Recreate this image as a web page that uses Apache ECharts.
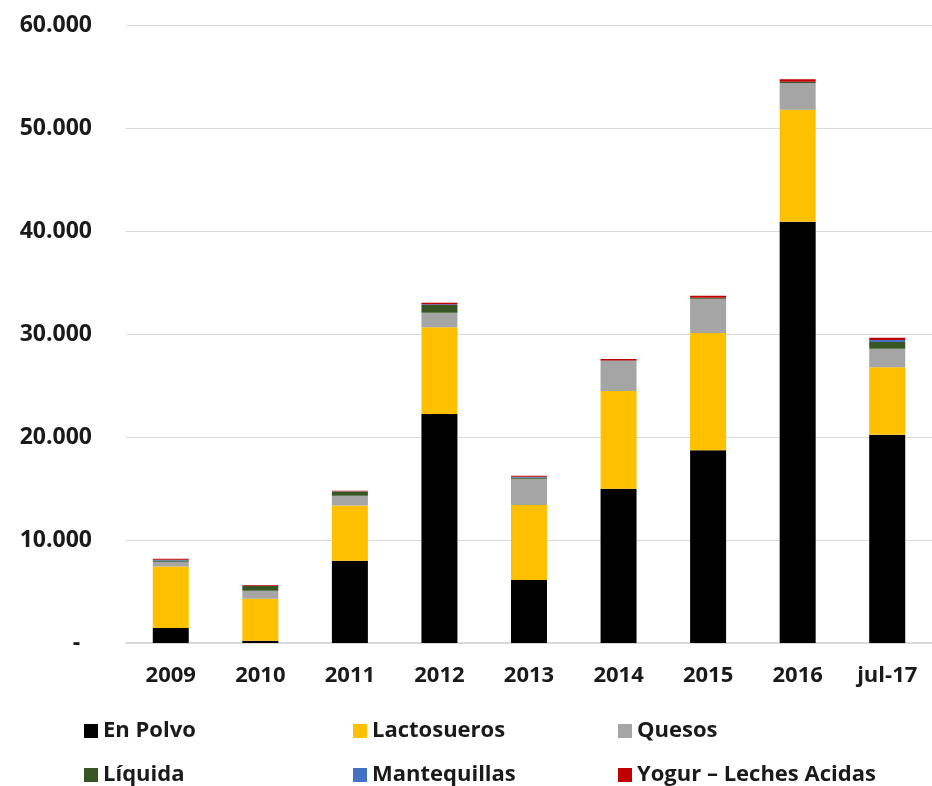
<!DOCTYPE html>
<html>
<head>
<meta charset="utf-8">
<script src="https://cdn.jsdelivr.net/npm/echarts@6/dist/echarts.min.js"></script>
<style>html,body{margin:0;padding:0;background:#fff}#c{width:932px;height:786px}</style>
</head>
<body>
<div id="c"></div>
<script>
const categories = ['2009','2010','2011','2012','2013','2014','2015','2016','jul-17'];
const enPolvo     = [1450, 230, 7980, 22240, 6110, 14970, 18720, 40890, 20230];
const lactosueros = [5980, 4070, 5370, 8410, 7300, 9500, 11380, 10870, 6540];
const quesos      = [450, 770, 940, 1420, 2530, 2910, 3320, 2610, 1810];
const liquida     = [120, 460, 410, 740, 120, 20, 70, 100, 650];
const mantequillas= [80, 40, 30, 90, 80, 20, 30, 30, 190];
const yogur       = [90, 50, 40, 140, 90, 160, 200, 230, 220];
const seriesNames = ['En Polvo','Lactosueros','Quesos','Líquida','Mantequillas','Yogur – Leches Acidas'];
const seriesData = [enPolvo, lactosueros, quesos, liquida, mantequillas, yogur];
const colors = ['#000000','#FFC000','#A5A5A5','#375623','#4472C4','#C00000'];

const FONT = 'Open Sans';
const chart = echarts.init(document.getElementById('c'), null, {renderer:'canvas'});
function fmt(v){ if(v===0) return '-  '; return String(v).replace(/\B(?=(\d{3})+(?!\d))/g,'.'); }
const legendText = {fontFamily:FONT, fontWeight:'bold', fontSize:22, color:'#1a1a1a'};
function mkLegend(left, names){
  return {orient:'vertical', left:left, top:720, itemWidth:14, itemHeight:14, itemGap:22,
    icon:'rect', data:names, textStyle:legendText, selectedMode:false, padding:0};
}
chart.setOption({
  animation:false,
  color: colors,
  grid:{left:126, top:25, width:808, height:618, containLabel:false},
  xAxis:{type:'category', data:categories,
    axisLine:{lineStyle:{color:'#d9d9d9', width:2}}, axisTick:{show:false},
    axisLabel:{fontFamily:FONT, fontWeight:'bold', fontSize:22, color:'#1a1a1a', margin:22}},
  yAxis:{type:'value', min:0, max:60000, interval:10000,
    axisLine:{show:false}, axisTick:{show:false},
    splitLine:{lineStyle:{color:'#d9d9d9', width:1}},
    axisLabel:{formatter:fmt, fontFamily:FONT, fontWeight:'bold', fontSize:23, color:'#1a1a1a', margin:34}},
  legend:[mkLegend(84,[seriesNames[0],seriesNames[3]]), mkLegend(353,[seriesNames[1],seriesNames[4]]), mkLegend(618,[seriesNames[2],seriesNames[5]])],
  series: seriesNames.map((n,i)=>({name:n, type:'bar', stack:'t', barWidth:36, data:seriesData[i],
    itemStyle:{color:colors[i]}}))
});
</script>
</body>
</html>
